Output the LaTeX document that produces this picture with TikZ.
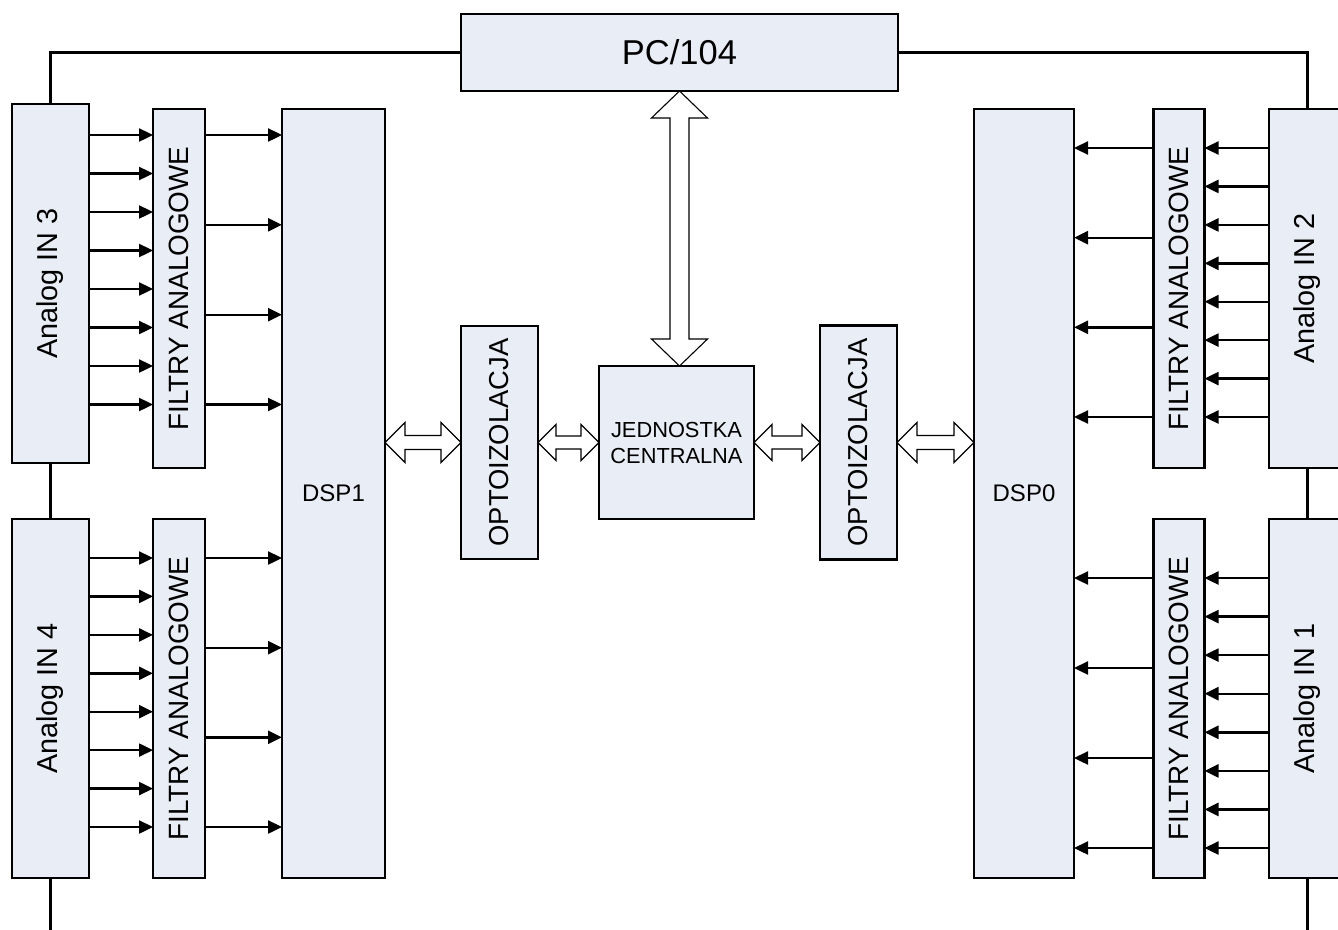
\documentclass[tikz,border=0pt]{standalone}
\usepackage{fontspec}
\usepackage{graphicx}
\setmainfont{Liberation Sans}
\usetikzlibrary{arrows.meta}
\definecolor{boxfill}{RGB}{233,237,245}
\tikzset{
  blk/.style={draw=black, fill=boxfill, line width=2.7pt, inner sep=0pt, outer sep=0pt, align=center},
  sig/.style={line width=2.4pt, -{Triangle[length=14pt,width=13pt]}},
  bus/.style={line width=2.1pt},
  hollow/.style={draw=black, fill=white, line width=1.1pt, line join=miter},
  fAn/.style={font=\fontsize{28.8}{32}\selectfont},
  fFi/.style={font=\fontsize{27.9}{31}\selectfont},
  fDsp/.style={font=\fontsize{24}{28}\selectfont},
  fOpt/.style={font=\fontsize{27.4}{31}\selectfont},
}
% hollow double arrow, horizontal: #1 left tip, #2 right tip, #3 head length, #4 head half-width, #5 shaft half-width
\newcommand\hollowH[5]{%
  \draw[hollow] (#1) -- ([xshift=#3pt,yshift=#4pt]#1) -- ([xshift=#3pt,yshift=#5pt]#1)
    -- ([xshift=-#3pt,yshift=#5pt]#2) -- ([xshift=-#3pt,yshift=#4pt]#2) -- (#2)
    -- ([xshift=-#3pt,yshift=-#4pt]#2) -- ([xshift=-#3pt,yshift=-#5pt]#2)
    -- ([xshift=#3pt,yshift=-#5pt]#1) -- ([xshift=#3pt,yshift=-#4pt]#1) -- cycle;}
% hollow double arrow, vertical: #1 top tip, #2 bottom tip
\newcommand\hollowV[5]{%
  \draw[hollow] (#1) -- ([xshift=#4pt,yshift=-#3pt]#1) -- ([xshift=#5pt,yshift=-#3pt]#1)
    -- ([xshift=#5pt,yshift=#3pt]#2) -- ([xshift=#4pt,yshift=#3pt]#2) -- (#2)
    -- ([xshift=-#4pt,yshift=#3pt]#2) -- ([xshift=-#5pt,yshift=#3pt]#2)
    -- ([xshift=-#5pt,yshift=-#3pt]#1) -- ([xshift=-#4pt,yshift=-#3pt]#1) -- cycle;}
\begin{document}
\begin{tikzpicture}[x=1pt,y=-1pt]
\useasboundingbox (0,0) rectangle (1338,929);
\clip (0,0) rectangle (1338,929);

% top: PC/104 and central unit
\node[blk, minimum width=437pt, minimum height=77pt, font=\fontsize{34.5}{38}\selectfont] (pc) at (679.5,52.5) {PC/104};
\node[blk, minimum width=155pt, minimum height=153pt, font=\fontsize{21.8}{26}\selectfont] (cpu) at (676.5,442.5) {JEDNOSTKA\\CENTRALNA};
\node[blk, fOpt, minimum width=77pt, minimum height=233pt] (opL) at (499.5,442.5) {\rotatebox{90}{OPTOIZOLACJA}};
\node[blk, fOpt, minimum width=77pt, minimum height=234pt] (opR) at (858.5,442.5) {\rotatebox{90}{OPTOIZOLACJA}};

% left branch
\node[blk, fAn, minimum width=77pt, minimum height=359pt] (a3) at (50.5,283.5) {\rotatebox{90}{Analog IN 3}};
\node[blk, fAn, minimum width=77pt, minimum height=359pt] (a4) at (50.5,698.5) {\rotatebox{90}{Analog IN 4}};
\node[blk, fFi, minimum width=52pt, minimum height=359pt] (f3) at (179,288.5) {\rotatebox{90}{FILTRY ANALOGOWE}};
\node[blk, fFi, minimum width=52pt, minimum height=359pt] (f4) at (179,698.5) {\rotatebox{90}{FILTRY ANALOGOWE}};
\node[blk, fDsp, minimum width=103pt, minimum height=769pt] (dsp1) at (333.5,493.5) {DSP1};

% right branch
\node[blk, fAn, minimum width=77pt, minimum height=359pt] (a2) at (1307.5,288.5) {\rotatebox{90}{Analog IN 2}};
\node[blk, fAn, minimum width=77pt, minimum height=359pt] (a1) at (1307.5,698.5) {\rotatebox{90}{Analog IN 1}};
\node[blk, fFi, minimum width=51pt, minimum height=359pt] (f2) at (1179,288.5) {\rotatebox{90}{FILTRY ANALOGOWE}};
\node[blk, fFi, minimum width=51pt, minimum height=359pt] (f1) at (1179,698.5) {\rotatebox{90}{FILTRY ANALOGOWE}};
\node[blk, fDsp, minimum width=100pt, minimum height=769pt] (dsp0) at (1024,493.5) {DSP0};

% bus wiring
\draw[bus] (pc.west) -| (a3.north);
\draw[bus] (pc.east) -| (a2.north);
\draw[bus] (a3.south) -- (a4.north);
\draw[bus] (a2.south) -- (a1.north);
\coordinate (endL) at (a4.south |- 0,935);
\coordinate (endR) at (a1.south |- 0,935);
\draw[bus] (a4.south) -- (endL);
\draw[bus] (a1.south) -- (endR);

% analog channels, left
\foreach \y in {135,173.5,212,250.5,289,327.5,366,404.5}
  \draw[sig] (a3.east |- 0,\y) -- (f3.west |- 0,\y);
\foreach \y in {135,224.8,314.7,404.5}
  \draw[sig] (f3.east |- 0,\y) -- (dsp1.west |- 0,\y);
\foreach \y in {558,596.4,634.9,673.3,711.7,750.1,788.6,827}
  \draw[sig] (a4.east |- 0,\y) -- (f4.west |- 0,\y);
\foreach \y in {558,647.7,737.3,827}
  \draw[sig] (f4.east |- 0,\y) -- (dsp1.west |- 0,\y);

% analog channels, right
\foreach \y in {148,186.4,224.9,263.3,301.7,340.1,378.6,417}
  \draw[sig] (a2.west |- 0,\y) -- (f2.east |- 0,\y);
\foreach \y in {148,237.7,327.3,417}
  \draw[sig] (f2.west |- 0,\y) -- (dsp0.east |- 0,\y);
\foreach \y in {578,616.6,655.1,693.7,732.3,770.9,809.4,848}
  \draw[sig] (a1.west |- 0,\y) -- (f1.east |- 0,\y);
\foreach \y in {578,668,758,848}
  \draw[sig] (f1.west |- 0,\y) -- (dsp0.east |- 0,\y);

% data links
\coordinate (d1) at (dsp1.east |- opL.west);
\coordinate (c1) at (cpu.west |- opL.east);
\coordinate (c2) at (cpu.east |- opR.west);
\coordinate (d0) at (dsp0.west |- opR.east);
\coordinate (cTop) at (pc.south |- cpu.north);
\hollowH{d1}{opL.west}{20}{20}{7}
\hollowH{opL.east}{c1}{18}{18}{6.5}
\hollowH{c2}{opR.west}{18}{18}{6.5}
\hollowH{opR.east}{d0}{20}{20}{7}
\hollowV{pc.south}{cTop}{27}{28}{9.5}
\end{tikzpicture}
\end{document}
